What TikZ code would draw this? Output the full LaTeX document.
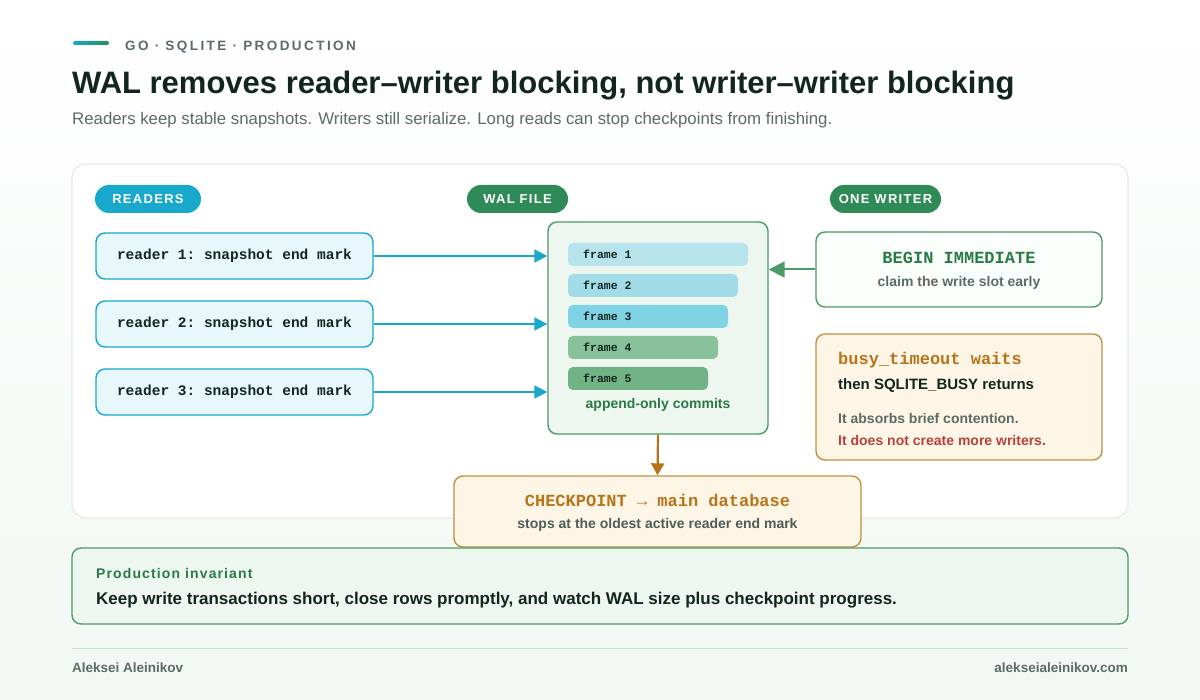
\documentclass[tikz,border=0pt]{standalone}
\usepackage{fontspec}
\setmainfont{Liberation Sans}
\setmonofont{Liberation Mono}
\usetikzlibrary{arrows.meta}
\definecolor{ink}{HTML}{12261F}
\definecolor{gray1}{HTML}{5B6B68}
\definecolor{cyanA}{HTML}{17A8CC}
\definecolor{cyanF}{HTML}{E8F7FA}
\definecolor{grn}{HTML}{2E8B57}
\definecolor{grnS}{HTML}{4C9A66}
\definecolor{grnF}{HTML}{EEF6F0}
\definecolor{grnT}{HTML}{2A7A45}
\definecolor{brn}{HTML}{B9741A}
\definecolor{brnS}{HTML}{C29042}
\definecolor{brnF}{HTML}{FDF6E6}
\definecolor{redT}{HTML}{B8413A}
\begin{document}
\begin{tikzpicture}[x=1pt,y=-1pt,
 box/.style={rounded corners=9pt,line width=1.4pt},
 pill/.style={rounded corners=14pt,text=white,font=\fontsize{13}{15}\selectfont\bfseries\addfontfeature{LetterSpace=10},inner sep=0pt,minimum height=28pt},
 rtxt/.style={font=\ttfamily\bfseries\fontsize{14.5}{17}\selectfont,text=ink},
 frame/.style={rounded corners=5pt},
 ftxt/.style={font=\ttfamily\bfseries\fontsize{11.5}{13}\selectfont,text=ink,anchor=west,inner sep=0pt},
 sml/.style={font=\bfseries\fontsize{14}{16}\selectfont},
 tw/.style={anchor=west,inner sep=0pt}]
\useasboundingbox (0,0) rectangle (1200,700);
\shade[top color=white,bottom color=grnF!80] (0,0) rectangle (1200,700);
% header
\shade[left color=cyanA,right color=grn,rounded corners=2pt] (73,41) rectangle (109,45);
\node[tw,text=gray1,font=\bfseries\fontsize{13.5}{15}\selectfont\addfontfeature{LetterSpace=18}] (kick) at (125,47) {GO · SQLITE · PRODUCTION};
\node[tw,text=ink,font=\bfseries\fontsize{31}{34}\selectfont] (title) at (72,86) {WAL removes reader–writer blocking, not writer–writer blocking};
\node[tw,text=gray1,font=\fontsize{16.8}{19}\selectfont] (sub) at (72,120) {Readers keep stable snapshots. Writers still serialize. Long reads can stop checkpoints from finishing.};
% panel
\draw[fill=white,draw=grnF!60!gray!40,line width=1.2pt,rounded corners=14pt] (72,164) rectangle (1128,518);
% pills
\node[pill,fill=cyanA,minimum width=106pt] (pr) at (148,199) {READERS};
\node[pill,fill=grn,minimum width=101pt] (pw) at (517.5,199) {WAL FILE};
\node[pill,fill=grn,minimum width=111pt] (po) at (885.5,199) {ONE WRITER};
% readers
\foreach \i/\y in {1/256,2/324,3/392}{
 \node[box,draw=cyanA,fill=cyanF,minimum width=277pt,minimum height=46pt,rtxt] (r\i) at (234.5,\y) {reader \i: snapshot end mark};
}
% WAL
\node[box,draw=grnS,fill=grnF,minimum width=220pt,minimum height=212pt] (wal) at (658,328) {};
\foreach \i/\r/\c in {1/748/B7E4EC,2/738/A2DCE9,3/728/80D2E5,4/718/88C19A,5/708/72B385}{
 \definecolor{fc}{HTML}{\c}
 \fill[frame,fc] (568,{243+31*(\i-1)}) rectangle (\r,{266+31*(\i-1)});
 \node[ftxt] (f\i) at (583,{254.5+31*(\i-1)}) {frame \i};
}
\node[sml,text=grnT] (aoc) at (658,405) {append-only commits};
\foreach \i/\y in {1/256,2/324,3/392}{
 \draw[cyanA,line width=1.8pt,-{Triangle[length=13pt,width=13pt]}] (r\i.east) -- (wal.west|-0,\y);
}
% writer
\node[box,draw=grnS,fill=grnF!70!green!5,minimum width=286pt,minimum height=75pt] (bi) at (959,269.5) {};
\node[font=\ttfamily\bfseries\fontsize{17}{19}\selectfont,text=grnT] (bit) at (959,258) {BEGIN IMMEDIATE};
\node[sml,text=gray1] (bis) at (959,283) {claim the write slot early};
\draw[grnS,line width=2pt,-{Triangle[length=16pt,width=16pt]}] (bi.west) -- (wal.east|-bi.west);
\node[box,draw=brnS,fill=brnF,minimum width=286pt,minimum height=126pt] (bt) at (959,397) {};
\node[tw,font=\ttfamily\bfseries\fontsize{17}{19}\selectfont,text=brn] (btt) at (838,360) {busy\_timeout waits};
\node[tw,font=\bfseries\fontsize{15}{17}\selectfont,text=ink] (bt2) at (838,386) {then SQLITE\_BUSY returns};
\node[tw,font=\bfseries\fontsize{14}{16}\selectfont,text=gray1] (bt3) at (838,418) {It absorbs brief contention.};
\node[tw,font=\bfseries\fontsize{14}{16}\selectfont,text=redT] (bt4) at (838,440) {It does not create more writers.};
% checkpoint
\node[box,draw=brnS,fill=brnF,minimum width=407pt,minimum height=71pt] (cp) at (657.5,511.5) {};
\node[font=\ttfamily\bfseries\fontsize{17}{19}\selectfont,text=brn] (cpt) at (657.5,500) {CHECKPOINT → main database};
\node[sml,text=gray1!80!ink] (cps) at (657.5,525) {stops at the oldest active reader end mark};
\draw[brn,line width=2.2pt,-{Triangle[length=12pt,width=13pt]}] (wal.south) -- (cp.north);
% invariant
\node[box,draw=grnS,fill=grnF,minimum width=1056pt,minimum height=76pt] (inv) at (600,586) {};
\node[tw,font=\bfseries\fontsize{14}{16}\selectfont\addfontfeature{LetterSpace=8},text=grnT] (invt) at (96,573) {Production invariant};
\node[tw,font=\bfseries\fontsize{17}{19}\selectfont,text=ink] (invs) at (96,600) {Keep write transactions short, close rows promptly, and watch WAL size plus checkpoint progress.};
% footer
\draw[grnS!30,line width=1pt] (72,648) -- (1128,648);
\node[tw,font=\bfseries\fontsize{13.5}{16}\selectfont,text=gray1] (fa) at (72,668) {Aleksei Aleinikov};
\node[anchor=east,inner sep=0pt,font=\bfseries\fontsize{13.5}{16}\selectfont,text=gray1] (fb) at (1128,668) {alekseialeinikov.com};
\end{tikzpicture}
\end{document}
